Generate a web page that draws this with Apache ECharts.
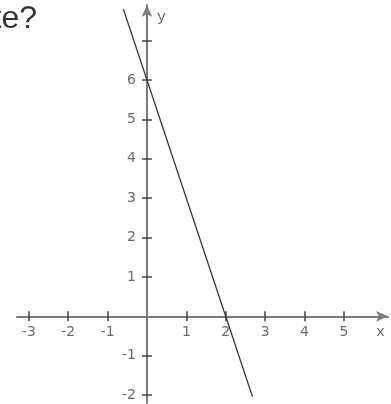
<!DOCTYPE html>
<html>
<head>
<meta charset="utf-8">
<script src="https://cdn.jsdelivr.net/npm/echarts@6/dist/echarts.min.js"></script>
<style>
  html, body { margin: 0; padding: 0; background: #fff; }
  #chart { width: 391px; height: 404px; }
</style>
</head>
<body>
<div id="chart"></div>
<script>
// Graph of the line y = -3x + 6, drawn between two endpoints
const lineX = [-0.6, 2.68];
const lineY = [7.8, -2.04];

// Tick marks and labels on each axis
const xTicks = [-3, -2, -1, 1, 2, 3, 4, 5];
const xLabels = [-3, -2, -1, 1, 2, 3, 4, 5];
const yTicks = [-2, -1, 1, 2, 3, 4, 5, 6, 7];
const yLabels = [-2, -1, 1, 2, 3, 4, 5, 6];

const xRange = [-3.3, 6.12];
const yRange = [-2.2, 7.9];

const axisColor = '#7a7a7a';
const tickColor = '#444';
const labelFont = { color: '#444', fontSize: 14, fontFamily: 'DejaVu Sans' };

const chart = echarts.init(document.getElementById('chart'));

// Axes cross at the origin; ticks are drawn on both sides of each axis line
// by pairing an outside-tick axis with an inside-tick copy.
function xAxisDef(inside, primary) {
  return {
    type: 'value', min: xRange[0], max: xRange[1], position: 'bottom',
    splitLine: { show: false },
    axisLine: {
      show: true, onZero: true,
      symbol: primary ? ['none', 'arrow'] : 'none', symbolSize: [8, 12],
      lineStyle: { color: axisColor, width: 2, opacity: primary ? 1 : 0 }
    },
    axisTick: { show: true, customValues: xTicks, inside: inside, length: 5,
                lineStyle: { color: tickColor, width: 1.5 } },
    axisLabel: { show: false }
  };
}
function yAxisDef(inside, primary) {
  return {
    type: 'value', min: yRange[0], max: yRange[1], position: 'left',
    splitLine: { show: false },
    axisLine: {
      show: true, onZero: true,
      symbol: primary ? ['none', 'arrow'] : 'none', symbolSize: [8, 12],
      lineStyle: { color: axisColor, width: 2, opacity: primary ? 1 : 0 }
    },
    axisTick: { show: true, customValues: yTicks, inside: inside, length: 5,
                lineStyle: { color: tickColor, width: 1.5 } },
    axisLabel: { show: false }
  };
}

// Tick numbers sit beside the axis lines that pass through the origin
function tickLabelSeries(points, position, distance) {
  return {
    type: 'scatter',
    xAxisIndex: 0, yAxisIndex: 0,
    data: points,
    symbolSize: 0,
    silent: true,
    label: Object.assign({
      show: true, position: position, distance: distance,
      formatter: p => String(position === 'bottom' ? p.value[0] : p.value[1])
    }, labelFont)
  };
}

chart.setOption({
  animation: false,
  backgroundColor: '#fff',
  grid: { left: 17, right: 3, top: 5, bottom: 1, containLabel: false, outerBoundsMode: 'none' },
  xAxis: [xAxisDef(false, true), xAxisDef(true, false)],
  yAxis: [yAxisDef(false, true), yAxisDef(true, false)],
  series: [
    {
      type: 'line',
      xAxisIndex: 0, yAxisIndex: 0,
      data: lineX.map((x, i) => [x, lineY[i]]),
      showSymbol: false,
      lineStyle: { color: '#3a3a3a', width: 1.3 },
      z: 5
    },
    tickLabelSeries(xLabels.map(v => [v, 0]), 'bottom', 9),
    tickLabelSeries(yLabels.map(v => [0, v]), 'left', 11)
  ],
  graphic: [
    { type: 'text', x: 37, y: 3,
      style: { align: 'right', verticalAlign: 'top',
               text: 'te?', fill: '#333', font: '32px "Liberation Sans"' } },
    { type: 'text', left: 376, top: 325,
      style: { text: 'x', fill: '#666', font: '15px "Liberation Mono"' } },
    { type: 'text', left: 157, top: 10,
      style: { text: 'y', fill: '#666', font: '15px "Liberation Mono"' } }
  ]
});
</script>
</body>
</html>
